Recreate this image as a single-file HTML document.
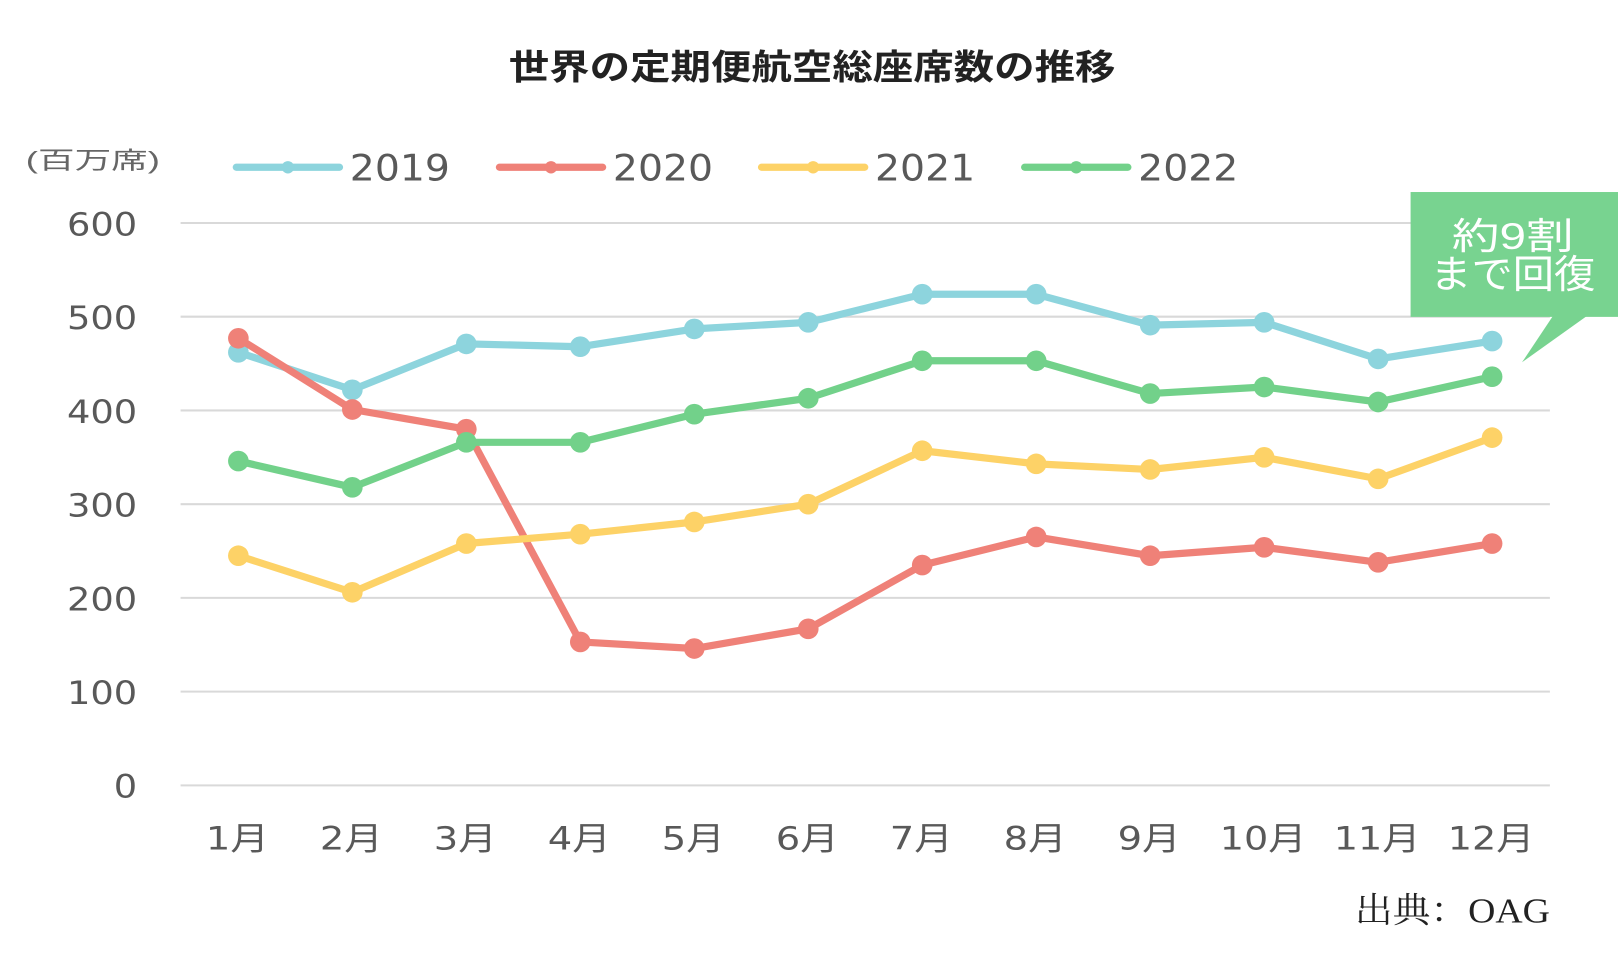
<!DOCTYPE html>
<html><head><meta charset="utf-8"><style>
html,body{margin:0;padding:0;background:#fff;}
svg{display:block;}
</style></head><body>
<svg id="chart" width="1618" height="965" viewBox="0 0 1568 935" xmlns="http://www.w3.org/2000/svg" font-family="'DejaVu Sans','Noto Sans CJK JP',sans-serif">
<text x="787" y="77" text-anchor="middle" font-size="34" font-weight="bold" fill="#222" textLength="588" lengthAdjust="spacingAndGlyphs" font-family="'Liberation Sans','Noto Sans CJK JP',sans-serif">世界の定期便航空総座席数の推移</text>
<text x="25" y="163" font-size="23" fill="#666" textLength="130" lengthAdjust="spacingAndGlyphs" font-family="'Liberation Sans','Noto Sans CJK JP',sans-serif">(百万席)</text>
<g id="grid"></g>
<g id="yticks"></g>
<g id="xticks"></g>
<g id="legend"></g>
<g id="series"></g>
<g font-family="'Liberation Sans','Noto Sans CJK JP',sans-serif">
<rect x="1367" y="186" width="201" height="121" fill="#78d390"/>
<polygon points="1505,306 1538,306 1475,351" fill="#78d390"/>
<text x="1466" y="241" text-anchor="middle" font-size="36" fill="#fff" textLength="118" lengthAdjust="spacingAndGlyphs">約9割</text>
<text x="1466" y="279" text-anchor="middle" font-size="38" fill="#fff" textLength="160" lengthAdjust="spacingAndGlyphs">まで回復</text>
</g>
<text x="1502" y="894" text-anchor="end" font-size="34" fill="#222" textLength="189" lengthAdjust="spacingAndGlyphs" font-family="'Liberation Serif','Noto Serif CJK SC',serif">出典：OAG</text>
</svg>
<script>
const months = ['1月','2月','3月','4月','5月','6月','7月','8月','9月','10月','11月','12月'];
const yTicks = [0,100,200,300,400,500,600];
const seriesNames = ['2019','2020','2021','2022'];
const s2019 = [462,422,471,468,487,494,524,524,491,494,455,474];
const s2020 = [477,401,380,153,146,167,235,265,245,254,238,258];
const s2021 = [245,206,258,268,281,300,357,343,337,350,327,371];
const s2022 = [346,318,366,366,396,413,453,453,418,425,409,436];
const colors = ['#8dd4dd','#ef8178','#fdd267','#72d18a'];
const NS='http://www.w3.org/2000/svg';
function yS(v){return 761-(v/600)*545;}
function xS(i){return 231+i*(1446-231)/11;}
function mk(tag,attrs,parent){const e=document.createElementNS(NS,tag);for(const k in attrs)e.setAttribute(k,attrs[k]);parent.appendChild(e);return e;}
const grid=document.getElementById('grid'),yt=document.getElementById('yticks'),xt=document.getElementById('xticks'),lg=document.getElementById('legend'),sg=document.getElementById('series');
yTicks.forEach(v=>{
  const l=mk('line',{x1:175,x2:1502,y1:yS(v),y2:yS(v),stroke:'#d9d9d9','stroke-width':2},grid);
  
  
  const s=String(v);
  const t=mk('text',{x:133,y:yS(v)+12,'text-anchor':'end','font-size':31,fill:'#595959',textLength:s.length*22.7,lengthAdjust:'spacingAndGlyphs'},yt);
  t.textContent=s;
  
  
});
months.forEach((m,i)=>{
  const t=mk('text',{x:xS(i)-1,y:823,'text-anchor':'middle','font-size':31,fill:'#595959',textLength:(m.length-1)*23+38,lengthAdjust:'spacingAndGlyphs'},xt);
  t.textContent=m;
  
  
});
const legX=[229,484,738,993];
seriesNames.forEach((n,k)=>{
  const g=mk('g',{},lg);
  
  
  mk('line',{x1:legX[k],x2:legX[k]+100,y1:162,y2:162,stroke:colors[k],'stroke-width':7,'stroke-linecap':'round'},g);
  mk('circle',{cx:legX[k]+50,cy:162,r:6,fill:colors[k]},g);
  const t=mk('text',{x:legX[k]+110,y:175,'font-size':35,fill:'#595959',textLength:97,lengthAdjust:'spacingAndGlyphs'},g);
  t.textContent=n;
});
[s2019,s2020,s2021,s2022].forEach((d,k)=>{
  const g=mk('g',{},sg);
  
  
  const p=mk('polyline',{points:d.map((v,i)=>xS(i)+','+yS(v)).join(' '),fill:'none',stroke:colors[k],'stroke-width':7,'stroke-linejoin':'round'},g);
  
  
  d.forEach((v,i)=>{
    const c=mk('circle',{cx:xS(i),cy:yS(v),r:10,fill:colors[k]},g);
    
    
  });
});
</script>
</body></html>
